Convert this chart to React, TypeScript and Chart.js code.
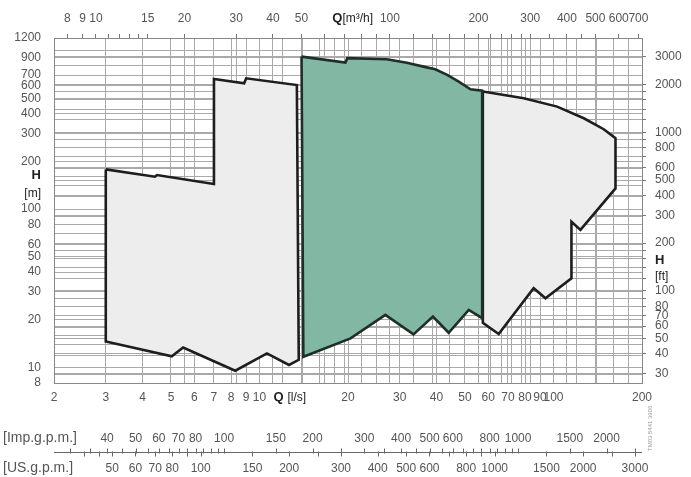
import React, { useEffect, useRef } from 'react';
import { Chart, registerables } from 'chart.js';

Chart.register(...registerables);

// ---------- Data (Q in l/s, H in m) ----------
const LEFT_Q = [3.0, 4.41, 4.48, 7.0, 7.0, 8.87, 9.01, 13.4, 13.6, 12.6, 10.6, 8.27, 5.5, 5.03, 3.0, 3.0];
const LEFT_H = [178, 160, 164, 144, 662, 622, 668, 606, 11.2, 10.4, 12.3, 9.56, 13.4, 11.8, 14.6, 178];

const GREEN_Q = [13.9, 19.6, 19.9, 27.1, 31.7, 36.1, 39.6, 43.5, 47.6, 52.2, 57.2, 57.2, 51.5, 44.0, 38.9, 33.4, 26.8, 20.4, 14.1, 13.9];
const GREEN_H = [916, 839, 895, 882, 838, 792, 762, 702, 636, 570, 559, 20.5, 23.1, 16.6, 21.0, 16.2, 21.5, 15.3, 11.7, 916];

const RIGHT_Q = [57.5, 79.2, 102.9, 126.8, 148.2, 162.5, 162.5, 123.5, 115.1, 115.1, 93.9, 85.6, 65.1, 57.5, 57.5];
const RIGHT_H = [551, 500, 443, 374, 319, 280, 135, 73.9, 83.3, 36.6, 27.4, 31.7, 16.3, 19.2, 551];

// ---------- Axis ticks ----------
const Q_LS_TICKS = [2, 3, 4, 5, 6, 7, 8, 9, 10, 20, 30, 40, 50, 60, 70, 80, 90, 100, 200];
const Q_LS_GRID = [3, 4, 5, 6, 7, 8, 9, 10, 12, 14, 16, 18, 20, 30, 40, 50, 60, 70, 80, 90, 100, 120, 140, 160, 180];
const Q_M3H_TICKS = [8, 9, 10, 11, 12, 13, 14, 15, 20, 30, 40, 50, 60, 70, 80, 90, 100, 120, 140, 160, 180, 200, 220, 240, 260, 280, 300, 350, 400, 450, 500, 600, 700];
const Q_M3H_LABELS = [8, 9, 10, 15, 20, 30, 40, 50, 100, 200, 300, 400, 500, 600, 700];
const Q_M3H_GRID = [20, 30, 40, 50, 60, 70, 80, 90, 100, 120, 140, 160, 180, 200, 220, 240, 260, 280, 300, 400, 500];
const H_M_TICKS = [8, 9, 10, 20, 30, 40, 50, 60, 70, 80, 90, 100, 200, 300, 400, 500, 600, 700, 800, 900, 1000, 1200];
const H_M_LABELS = [8, 10, 20, 30, 40, 50, 60, 80, 100, 200, 300, 400, 500, 600, 700, 900, 1200];
const H_M_GRID = [9, 10, 12, 14, 16, 18, 20, 30, 40, 50, 60, 70, 80, 90, 100, 120, 140, 160, 180, 200, 300, 400, 500, 600, 700, 800, 900, 1000];
const H_FT_TICKS = [30, 40, 50, 60, 70, 80, 90, 100, 120, 140, 160, 180, 200, 300, 400, 500, 600, 700, 800, 900, 1000, 1200, 1400, 1600, 1800, 2000, 3000];
const H_FT_LABELS = [30, 40, 50, 60, 70, 80, 100, 200, 300, 400, 500, 600, 800, 1000, 2000, 3000];
const IMP_LABELS = [40, 50, 60, 70, 80, 100, 150, 200, 300, 400, 500, 600, 800, 1000, 1500, 2000];
const IMP_MARKS = [30, 35, 40, 45, 50, 55, 60, 65, 70, 75, 80, 85, 90, 95, 100, 150, 200, 250, 300, 350, 400, 450, 500, 550, 600, 650, 700, 750, 800, 850, 900, 950, 1000, 1500, 2000, 2500];
const US_LABELS = [50, 60, 70, 80, 100, 150, 200, 300, 400, 500, 600, 800, 1000, 1500, 2000, 3000];
const US_MARKS = [40, 45, 50, 60, 70, 80, 90, 100, 150, 200, 250, 300, 400, 500, 600, 700, 800, 900, 1000, 1500, 2000, 2500, 3000];

// unit conversions
const M3H_PER_LS = 3.6;
const FT_PER_M = 1 / 0.3048;
const IMP_PER_LS = 13.198;
const US_PER_LS = 15.850;

const Q_MIN = 2, Q_MAX = 200, H_MIN = 8, H_MAX = 1200;

// axis-title ticks (label-only ticks in axis units)
const X_TITLES = [{ v: 11.6, t: 'Q', b: true }, { v: 13.4, t: '[l/s]', b: false }];
const X2_TITLES = [{ v: 66.2, t: 'Q', b: true }, { v: 77.7, t: '[m³/h]', b: false }];
const Y_TITLES = [{ v: 164, t: 'H', b: true }, { v: 124.5, t: '[m]', b: false }];
const Y2_TITLES = [{ v: 156.7, t: 'H', b: true }, { v: 123, t: '[ft]', b: false }];

const FAMILY = "'Liberation Sans', Arial, Helvetica, sans-serif";
const LABEL_COLOR = '#555555';
const TITLE_COLOR = '#222222';
const GRID_COLOR = '#a9a9a9';
const BORDER_COLOR = '#888888';

type Title = { v: number; t: string; b: boolean };

function axisTicks(values: number[], labels: number[] | null, titles: Title[], grid: number[], showTicks: boolean) {
  const labelSet = new Set(labels ?? values);
  const gridSet = new Set(grid);
  const titleMap = new Map(titles.map((t) => [t.v, t]));
  const all = Array.from(new Set([...values, ...grid, ...titles.map((t) => t.v)])).sort((a, b) => a - b);
  return {
    afterBuildTicks: (scale: any) => {
      scale.ticks = all.map((v) => ({ value: v }));
    },
    callback: (value: number) => {
      const t = titleMap.get(value);
      if (t) return t.t;
      return labelSet.has(value) && values.includes(value) ? String(value) : '';
    },
    font: (ctx: any) => {
      const t = ctx.tick ? titleMap.get(ctx.tick.value) : undefined;
      return t && t.b ? { family: FAMILY, size: 13, weight: 'bold' } : { family: FAMILY, size: 12, weight: 'normal' };
    },
    color: (ctx: any) => (ctx.tick && titleMap.has(ctx.tick.value) ? TITLE_COLOR : LABEL_COLOR),
    gridColor: (ctx: any) => (ctx.tick && gridSet.has(ctx.tick.value) ? GRID_COLOR : 'rgba(0,0,0,0)'),
    tickColor: (ctx: any) =>
      showTicks && ctx.tick && !titleMap.has(ctx.tick.value) && values.includes(ctx.tick.value) ? '#777777' : 'rgba(0,0,0,0)',
  };
}

function toPoints(qs: number[], hs: number[]) {
  return qs.map((q, i) => ({ x: q, y: hs[i] }));
}

const gpmPlugin = {
  id: 'gpmScale',
  afterDraw(chart: any) {
    const { ctx, chartArea } = chart;
    const imp = chart.scales.xImp;
    const us = chart.scales.xUS;
    const y = Math.round(us.top) + 0.5;
    ctx.save();
    ctx.strokeStyle = '#666666';
    ctx.lineWidth = 1;
    ctx.beginPath();
    ctx.moveTo(chartArea.left, y);
    ctx.lineTo(chartArea.right, y);
    IMP_MARKS.forEach((v) => {
      const x = Math.round(imp.getPixelForValue(v)) + 0.5;
      ctx.moveTo(x, y - 4);
      ctx.lineTo(x, y + 1);
    });
    US_MARKS.forEach((v) => {
      const x = Math.round(us.getPixelForValue(v)) + 0.5;
      ctx.moveTo(x, y - 1);
      ctx.lineTo(x, y + 4);
    });
    ctx.stroke();
    ctx.fillStyle = LABEL_COLOR;
    ctx.font = `14px ${FAMILY}`;
    ctx.textAlign = 'left';
    ctx.textBaseline = 'middle';
    ctx.fillText('[Imp.g.p.m.]', 3, imp.top + 15);
    ctx.fillText('[US.g.p.m.]', 3, us.top + 16);
    // small rotated reference code
    ctx.translate(chartArea.right + 8, us.top - 1);
    ctx.rotate(-Math.PI / 2);
    ctx.font = `6px ${FAMILY}`;
    ctx.fillStyle = '#999999';
    ctx.textAlign = 'left';
    ctx.fillText('TM03 5441 3906', 0, 0);
    ctx.restore();
  },
};

export default function App() {
  const ref = useRef<HTMLCanvasElement | null>(null);

  useEffect(() => {
    document.body.style.margin = '0';
    const canvas = ref.current;
    if (!canvas) return;

    const xT = axisTicks(Q_LS_TICKS, null, X_TITLES, Q_LS_GRID, false);
    const x2T = axisTicks(Q_M3H_TICKS, Q_M3H_LABELS, X2_TITLES, Q_M3H_GRID, true);
    const yT = axisTicks(H_M_TICKS, H_M_LABELS, Y_TITLES, H_M_GRID, false);
    const y2T = axisTicks(H_FT_TICKS, H_FT_LABELS, Y2_TITLES, H_FT_TICKS, true);
    const impT = axisTicks(IMP_LABELS, null, [], [], false);
    const usT = axisTicks(US_LABELS, null, [], [], false);

    const mkTicks = (t: any, padding: number) => ({
      autoSkip: false,
      maxRotation: 0,
      minRotation: 0,
      padding,
      callback: t.callback,
      font: t.font,
      color: t.color,
    });

    const chart = new Chart(canvas, {
      type: 'scatter',
      data: {
        datasets: [
          {
            data: toPoints(GREEN_Q, GREEN_H),
            showLine: true,
            fill: 'shape',
            backgroundColor: '#82b8a3',
            borderColor: '#1f2e28',
            borderWidth: 2.6,
            borderJoinStyle: 'miter',
            pointRadius: 0,
            order: 0,
          },
          {
            data: toPoints(LEFT_Q, LEFT_H),
            showLine: true,
            fill: 'shape',
            backgroundColor: '#ededed',
            borderColor: '#1e1e1e',
            borderWidth: 2.6,
            borderJoinStyle: 'miter',
            pointRadius: 0,
            order: 1,
          },
          {
            data: toPoints(RIGHT_Q, RIGHT_H),
            showLine: true,
            fill: 'shape',
            backgroundColor: '#ededed',
            borderColor: '#1e1e1e',
            borderWidth: 2.6,
            borderJoinStyle: 'miter',
            pointRadius: 0,
            order: 1,
          },
        ] as any,
      },
      options: {
        animation: false,
        responsive: false,
        events: [],
        layout: { padding: 0 },
        plugins: { legend: { display: false }, tooltip: { enabled: false } },
        scales: {
          x: {
            type: 'logarithmic',
            position: 'bottom',
            weight: 0,
            min: Q_MIN,
            max: Q_MAX,
            afterBuildTicks: xT.afterBuildTicks,
            afterFit: (s: any) => { s.height = 40; },
            ticks: mkTicks(xT, 7),
            grid: { color: xT.gridColor, drawTicks: false, lineWidth: 1 },
            border: { display: true, color: BORDER_COLOR, width: 1 },
          },
          xImp: {
            type: 'logarithmic',
            position: 'bottom',
            weight: 1,
            min: Q_MIN * IMP_PER_LS,
            max: Q_MAX * IMP_PER_LS,
            afterBuildTicks: impT.afterBuildTicks,
            afterFit: (s: any) => { s.height = 29; },
            ticks: mkTicks(impT, 8),
            grid: { display: false, drawTicks: false },
            border: { display: false },
          },
          xUS: {
            type: 'logarithmic',
            position: 'bottom',
            weight: 2,
            min: Q_MIN * US_PER_LS,
            max: Q_MAX * US_PER_LS,
            afterBuildTicks: usT.afterBuildTicks,
            afterFit: (s: any) => { s.height = 25; },
            ticks: mkTicks(usT, 9),
            grid: { display: false, drawTicks: false },
            border: { display: false },
          },
          x2: {
            type: 'logarithmic',
            position: 'top',
            min: Q_MIN * M3H_PER_LS,
            max: Q_MAX * M3H_PER_LS,
            afterBuildTicks: x2T.afterBuildTicks,
            afterFit: (s: any) => { s.height = 38; },
            ticks: mkTicks(x2T, 8),
            grid: { color: x2T.gridColor, tickColor: x2T.tickColor, drawTicks: true, tickLength: 4, lineWidth: 1 },
            border: { display: true, color: BORDER_COLOR, width: 1 },
          },
          y: {
            type: 'logarithmic',
            position: 'left',
            min: H_MIN,
            max: H_MAX,
            afterBuildTicks: yT.afterBuildTicks,
            afterFit: (s: any) => { s.width = 54; },
            ticks: mkTicks(yT, 13),
            grid: { color: yT.gridColor, drawTicks: false, lineWidth: 1 },
            border: { display: true, color: BORDER_COLOR, width: 1 },
          },
          y2: {
            type: 'logarithmic',
            position: 'right',
            min: H_MIN * FT_PER_M,
            max: H_MAX * FT_PER_M,
            afterBuildTicks: y2T.afterBuildTicks,
            afterFit: (s: any) => { s.width = 49; },
            ticks: mkTicks(y2T, 9),
            grid: { color: y2T.gridColor, tickColor: y2T.tickColor, drawTicks: true, tickLength: 4, lineWidth: 1 },
            border: { display: true, color: BORDER_COLOR, width: 1 },
          },
        },
      } as any,
      plugins: [gpmPlugin],
    });

    return () => chart.destroy();
  }, []);

  return (
    <div style={{ width: 691, height: 477, background: '#ffffff' }}>
      <canvas ref={ref} width={691} height={477} style={{ display: 'block' }} />
    </div>
  );
}
